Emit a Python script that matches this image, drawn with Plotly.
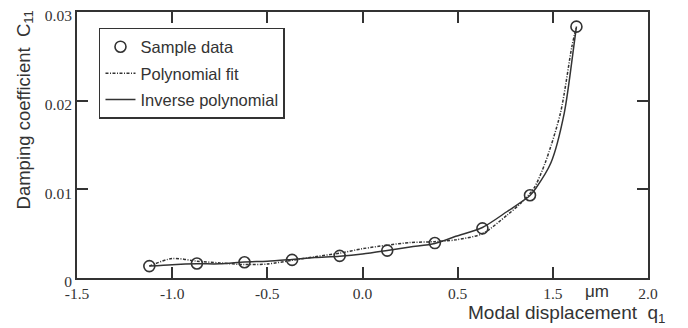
import plotly.graph_objects as go

# Sample data (display positions on the x axis; tick labels as printed)
sample_x = [-1.12, -0.87, -0.62, -0.37, -0.12, 0.13, 0.38, 0.63, 0.88, 1.124]
sample_y = [0.00134, 0.00164, 0.00178, 0.00204, 0.00249, 0.00309, 0.00394, 0.0056, 0.00933, 0.02835]

poly_x = [-1.12, -1.00, -0.87, -0.75, -0.62, -0.50, -0.37, -0.25, -0.12, 0.00, 0.13, 0.25,
          0.38, 0.49, 0.63, 0.76, 0.83, 0.90, 0.96, 1.04, 1.10, 1.124]
poly_y = [0.00134, 0.0022, 0.0019, 0.0017, 0.00152, 0.00158, 0.0020, 0.0024, 0.0028, 0.0033,
          0.0037, 0.0040, 0.0041, 0.0043, 0.0050, 0.0071, 0.0084, 0.0101, 0.0130, 0.0186,
          0.0261, 0.02835]

inv_x = [-1.12, -1.00, -0.87, -0.75, -0.62, -0.50, -0.37, -0.25, -0.12, 0.00, 0.13, 0.25,
         0.38, 0.49, 0.63, 0.76, 0.88, 0.91, 0.99, 1.06, 1.11, 1.124]
inv_y = [0.00134, 0.0015, 0.0016, 0.0016, 0.0018, 0.0019, 0.0021, 0.0023, 0.00245, 0.0027,
         0.0031, 0.0035, 0.0039, 0.0047, 0.0057, 0.0075, 0.0093, 0.0101, 0.0130, 0.0186,
         0.0261, 0.02835]

x_tickvals = [-1.5, -1.0, -0.5, 0.0, 0.5, 1.0, 1.5]
x_ticktext = ["-1.5", "-1.0", "-0.5", "0.0", "0.5", "1.5", "2.0"]
y_tickvals = [0, 0.01, 0.02, 0.03]
y_ticktext = ["0", "0.01", "0.02", "0.03"]

ink = "#333333"
sans = "Liberation Sans, Arial, sans-serif"
serif = "Liberation Serif, Times New Roman, serif"

fig = go.Figure()
fig.add_trace(go.Scatter(
    x=poly_x, y=poly_y, mode="lines", name="Polynomial fit", legendgroup="b", legendrank=2,
    line=dict(color=ink, width=1.5, dash="3px,1.5px,1px,1.5px", shape="spline", smoothing=0.8),
))
fig.add_trace(go.Scatter(
    x=inv_x, y=inv_y, mode="lines", name="Inverse polynomial", legendgroup="c", legendrank=3,
    line=dict(color=ink, width=1.5, shape="spline", smoothing=0.8),
))
fig.add_trace(go.Scatter(
    x=sample_x, y=sample_y, mode="markers", name="Sample data", legendgroup="a", legendrank=1,
    marker=dict(symbol="circle-open", size=11, color=ink, line=dict(width=1.6, color=ink)),
))

axis_common = dict(
    showline=True, linewidth=2, linecolor=ink, mirror="allticks",
    ticks="inside", ticklen=11, tickwidth=2, tickcolor=ink,
    showgrid=False, zeroline=False, ticklabeloverflow="allow",
    tickfont=dict(family=serif, size=15.5, color=ink),
)

fig.update_xaxes(range=[-1.5, 1.5], tickmode="array", tickvals=x_tickvals,
                 ticktext=x_ticktext, **axis_common)
fig.update_yaxes(range=[0, 0.03], tickmode="array", tickvals=y_tickvals,
                 ticktext=y_ticktext, ticklabelshift=4, **axis_common)

fig.add_annotation(text="Damping coefficient  C<sub>11</sub>", xref="paper", yref="paper",
                   x=-0.091, y=0.63, xanchor="center", yanchor="middle", textangle=-90,
                   showarrow=False, font=dict(family=sans, size=18.5, color=ink))
fig.add_annotation(text="μm", xref="paper", yref="paper", x=0.911, y=-0.05,
                   xanchor="center", yanchor="middle", showarrow=False,
                   font=dict(family=sans, size=17, color=ink))
fig.add_annotation(text="Modal displacement  q<sub>1</sub>", xref="paper", yref="paper",
                   x=1.035, y=-0.135, xanchor="right", yanchor="middle", showarrow=False,
                   font=dict(family=sans, size=19, color=ink))

fig.update_layout(
    width=680, height=320,
    margin=dict(l=69, r=40, t=4, b=50, autoexpand=False),
    paper_bgcolor="white", plot_bgcolor="white",
    showlegend=True,
    legend=dict(
        x=0.0385, y=0.94, xanchor="left", yanchor="top",
        traceorder="grouped", tracegroupgap=2, itemwidth=30,
        bordercolor=ink, borderwidth=1.5, bgcolor="white",
        font=dict(family=sans, size=16.5, color=ink),
    ),
)

fig.write_html("out.html")
